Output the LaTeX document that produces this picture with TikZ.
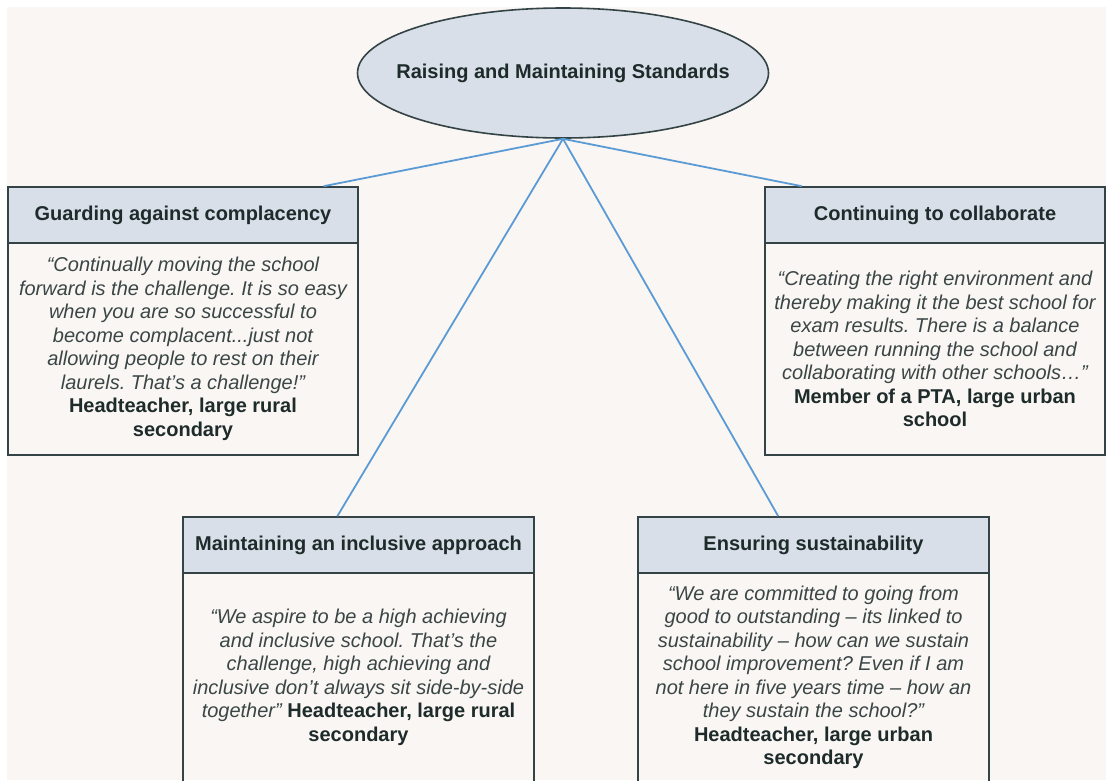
\documentclass[tikz,border=0pt]{standalone}
\usepackage{fontspec}
\setmainfont{Liberation Sans}
\usetikzlibrary{calc,shapes.geometric}
\frenchspacing
\definecolor{paper}{HTML}{FAF6F3}
\definecolor{headfill}{HTML}{D8DFE8}
\definecolor{frame}{HTML}{344446}
\definecolor{linkblue}{HTML}{5B9BD5}
\definecolor{inkdark}{HTML}{1E2B2B}
\definecolor{inkquote}{HTML}{3A4646}
\def\who#1{{\upshape\bfseries\color{inkdark}#1}}
\tikzset{
	head/.style={draw=frame, line width=1.6pt, fill=headfill, text=inkdark, font=\fontsize{20}{23.5}\selectfont\bfseries, minimum height=56pt, inner sep=0pt},
	body/.style={draw=frame, line width=1.6pt, text=inkquote, font=\fontsize{20}{23.5}\selectfont\itshape, align=center, inner sep=0pt},
	link/.style={draw=linkblue, line width=1.8pt}
}

\begin{document}
\begin{tikzpicture}[x=1pt, y=-1pt]
			%%%%% START %%%%%
			
			\useasboundingbox (0, 0) rectangle (1106, 780);
			\fill[white] (0, 0) rectangle (1106, 780);
			\fill[paper] (7, 7) rectangle (1106, 780);
			
			\node[ellipse, draw=frame, line width=1.6pt, fill=headfill, text=inkdark, font=\fontsize{20}{23.5}\selectfont\bfseries, minimum width=411pt, minimum height=130pt, inner sep=0pt] (root) at (563, 73) {\makebox[0pt]{Raising and Maintaining Standards}};
			
			\node[head, minimum width=350pt] (guardhead) at (183, 215) {Guarding against complacency};
			\node[body, minimum width=350pt, minimum height=212pt] (guardbody) at (183, 349) {“Continually moving the school\\ forward is the challenge. It is so easy\\ when you are so successful to\\ become complacent...just not\\ allowing people to rest on their\\ laurels. That’s a challenge!”\\ \who{Headteacher, large rural}\\ \who{secondary}};
			
			\node[head, minimum width=340pt] (collabhead) at (935, 215) {Continuing to collaborate};
			\node[body, minimum width=340pt, minimum height=212pt] (collabbody) at (935, 349) {“Creating the right environment and\\ thereby making it the best school for\\ exam results. There is a balance\\ between running the school and\\ collaborating with other schools…”\\ \who{Member of a PTA, large urban}\\ \who{school}};
			
			\node[head, minimum width=351pt] (inclhead) at (358.5, 545) {Maintaining an inclusive approach};
			\node[body, minimum width=351pt, minimum height=209pt] (inclbody) at (358.5, 677.5) {“We aspire to be a high achieving\\ and inclusive school. That’s the\\ challenge, high achieving and\\ inclusive don’t always sit side-by-side\\ together” \who{Headteacher, large rural}\\ \who{secondary}};
			
			\node[head, minimum width=351pt] (sustainhead) at (813.5, 545) {Ensuring sustainability};
			\node[body, minimum width=351pt, minimum height=209pt] (sustainbody) at (813.5, 677.5) {“We are committed to going from\\ good to outstanding – its linked to\\ sustainability – how can we sustain\\ school improvement? Even if I am\\ not here in five years time – how an\\ they sustain the school?”\\ \who{Headteacher, large urban}\\ \who{secondary}};
			
			\draw[link] (root.south) -- ($(guardhead.north west)!0.9!(guardhead.north east)$);
			\draw[link] (root.south) -- ($(collabhead.north west)!0.11!(collabhead.north east)$);
			\draw[link] (root.south) -- ($(inclhead.north west)!0.44!(inclhead.north east)$);
			\draw[link] (root.south) -- ($(sustainhead.north west)!0.4!(sustainhead.north east)$);
			
			%%%%% END %%%%%
\end{tikzpicture}
\end{document}
